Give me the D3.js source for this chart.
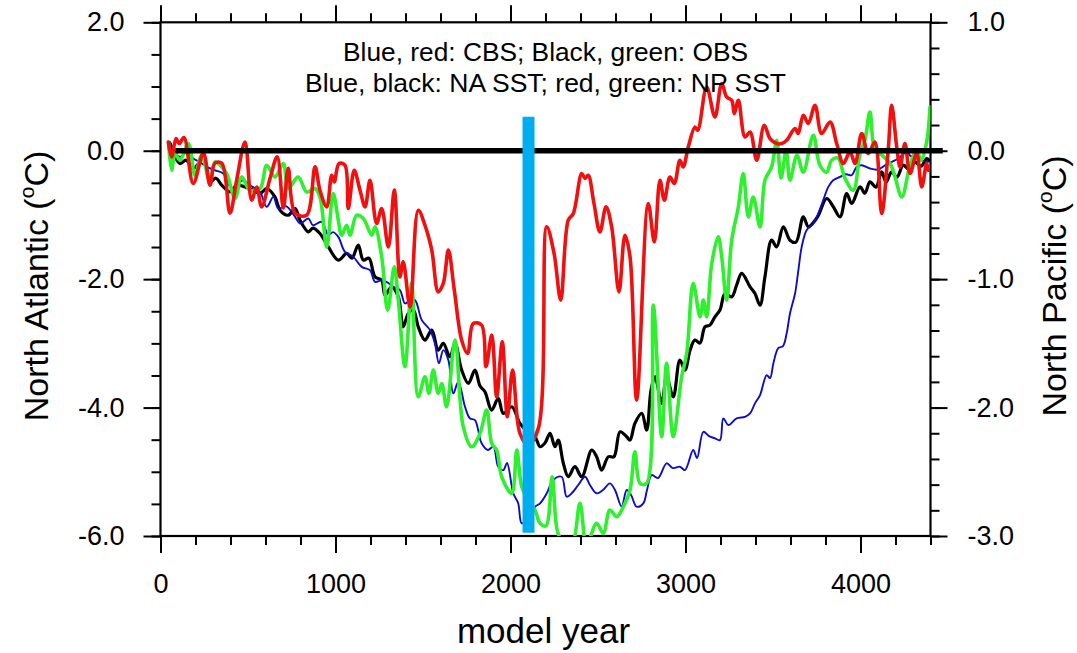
<!DOCTYPE html>
<html>
<head>
<meta charset="utf-8">
<script src="https://cdn.jsdelivr.net/npm/d3@7"></script>
<style>
  body { margin: 0; background: #fff; }
  svg { display: block; }
  text { font-family: "Liberation Sans", Arial, Helvetica, sans-serif; fill: #000; }
</style>
</head>
<body>
<svg id="chart" width="1077" height="653"></svg>
<script>
// ---- axis ticks and labels ----
const xMajorTicks = [0, 1000, 2000, 3000, 4000];
const xMinorStep = 200;
const leftMajorTicks = [-6, -4, -2, 0, 2];
const leftMinorStep = 0.5;
const rightMajorTicks = [-3, -2, -1, 0, 1];
const rightMinorStep = 0.2;
const noteLines = [
  "Blue, red: CBS; Black, green: OBS",
  "Blue, black: NA SST; red, green: NP SST"
];
const xTitle = "model year";
const leftTitle = "North Atlantic (";
const rightTitle = "North Pacific (";

// ---- series: [model year, SST anomaly °C] ----
// North Atlantic, CBS (blue, left axis)
const blueNA = [
  [54,0.137],[111,-0.096],[151,-0.023],[187,-0.121],[226,-0.179],[264,-0.252],[311,-0.304],
  [359,-0.355],[407,-0.588],[437,-0.521],[473,-0.459],[511,-0.537],[540,-0.584],[569,-0.641],
  [607,-0.875],[645,-0.719],[673,-0.900],[717,-0.864],[769,-1.030],[797,-1.133],[845,-1.055],
  [871,-1.160],[921,-1.108],[959,-1.315],[986,-1.268],[1016,-1.342],[1054,-1.575],[1102,-1.653],
  [1150,-1.809],[1197,-1.860],[1226,-2.042],[1264,-2.016],[1294,-2.047],[1330,-2.120],[1368,-2.171],
  [1397,-2.378],[1426,-2.327],[1454,-2.327],[1493,-2.638],[1540,-2.794],[1568,-3.001],[1591,-3.312],
  [1616,-3.105],[1645,-3.261],[1673,-3.779],[1702,-3.598],[1740,-3.988],[1768,-4.168],[1797,-4.195],
  [1835,-4.557],[1871,-4.661],[1902,-4.610],[1930,-4.921],[1959,-4.973],[1980,-4.864],[2016,-5.335],
  [2044,-5.491],[2064,-5.802],[2100,-5.72],[2140,-5.544],[2169,-5.491],[2207,-5.335],[2244,-5.128],
  [2292,-5.077],[2321,-5.388],[2351,-5.331],[2387,-5.206],[2426,-5.077],[2454,-5.206],[2492,-5.335],
  [2528,-5.284],[2568,-5.180],[2597,-5.284],[2635,-5.544],[2664,-5.284],[2689,-5.362],[2721,-5.544],
  [2759,-5.491],[2780,-5.284],[2807,-5.051],[2843,-5.097],[2892,-4.868],[2928,-4.942],[2968,-4.921],
  [2997,-4.973],[3044,-4.661],[3066,-4.786],[3102,-4.377],[3134,-4.444],[3168,-4.479],[3197,-4.506],
  [3216,-4.168],[3245,-4.272],[3292,-4.168],[3340,-4.143],[3369,-4.090],[3397,-3.935],[3426,-3.805],
  [3464,-3.494],[3483,-3.541],[3502,-3.312],[3530,-3.074],[3557,-3.043],[3578,-2.845],[3597,-2.534],
  [3626,-2.223],[3645,-1.860],[3664,-1.497],[3692,-1.237],[3730,-1.133],[3759,-0.977],[3787,-0.770],
  [3816,-0.563],[3844,-0.459],[3883,-0.408],[3917,-0.366],[3950,-0.381],[3978,-0.252],[4007,-0.226],
  [4054,-0.277],[4102,-0.293],[4140,-0.226],[4174,-0.179],[4216,-0.121],[4264,-0.019],[4288,-0.086],
  [4321,-0.070],[4350,-0.148],[4388,-0.174]
];

// North Atlantic, OBS (black, left axis)
const blackNA = [
  [54,0.112],[111,-0.199],[146,-0.148],[187,-0.277],[245,-0.121],[283,-0.486],[317,-0.428],
  [350,-0.537],[397,-0.641],[435,-0.537],[483,-0.563],[530,-0.615],[569,-0.666],[607,-0.588],
  [654,-0.719],[683,-0.926],[730,-1.004],[769,-0.900],[797,-1.082],[845,-1.264],[871,-1.206],
  [911,-1.289],[959,-1.497],[1016,-1.704],[1064,-1.600],[1094,-1.673],[1130,-1.471],[1159,-1.704],
  [1191,-1.673],[1226,-1.964],[1264,-2.016],[1283,-2.249],[1321,-2.120],[1359,-2.276],[1387,-2.742],
  [1416,-2.534],[1445,-2.482],[1473,-2.742],[1511,-2.949],[1550,-2.794],[1587,-3.105],[1616,-3.001],
  [1654,-3.209],[1683,-3.001],[1721,-3.416],[1759,-3.623],[1797,-3.416],[1826,-3.665],[1854,-3.754],
  [1892,-4.039],[1930,-3.857],[1959,-4.090],[2007,-3.988],[2054,-4.246],[2100,-4.381],[2140,-4.454],
  [2169,-4.610],[2197,-4.553],[2226,-4.401],[2254,-4.610],[2273,-4.506],[2302,-4.868],[2330,-5.077],
  [2368,-4.921],[2407,-5.077],[2464,-4.661],[2492,-4.766],[2521,-4.973],[2559,-4.766],[2591,-4.766],
  [2626,-4.377],[2664,-4.454],[2683,-4.506],[2711,-4.246],[2750,-4.090],[2778,-4.350],[2803,-3.728],
  [2826,-3.521],[2864,-3.935],[2892,-3.521],[2930,-3.832],[2968,-3.261],[2997,-3.416],[3026,-3.105],
  [3054,-2.949],[3083,-2.996],[3111,-2.742],[3140,-2.716],[3168,-2.587],[3197,-2.482],[3226,-2.223],
  [3264,-2.276],[3292,-2.093],[3321,-1.911],[3369,-2.120],[3397,-2.223],[3426,-2.405],[3454,-1.964],
  [3492,-1.393],[3521,-1.497],[3559,-1.186],[3597,-1.393],[3631,-1.424],[3673,-1.030],[3702,-1.186],
  [3728,-1.128],[3757,-1.019],[3807,-0.744],[3843,-0.864],[3883,-1.030],[3921,-0.666],[3950,-0.822],
  [3997,-0.563],[4025,-0.661],[4054,-0.486],[4088,-0.568],[4121,-0.330],[4146,-0.490],[4178,-0.330],
  [4208,-0.412],[4244,-0.226],[4277,-0.288],[4311,-0.174],[4346,-0.241],[4378,-0.121],[4391,-0.148]
];

// North Pacific, OBS (green, right axis)
const greenNP = [
  [45,0.068],[64,-0.152],[83,-0.022],[111,-0.074],[159,0.056],[197,-0.191],[235,-0.035],
  [283,-0.243],[311,-0.087],[340,-0.113],[378,-0.177],[426,-0.372],[464,-0.204],[511,-0.307],
  [569,-0.294],[607,-0.113],[654,-0.204],[702,-0.100],[730,-0.294],[787,-0.204],[835,-0.321],
  [883,-0.294],[911,-0.360],[950,-0.749],[987,-0.333],[1016,-0.541],[1035,-0.658],[1064,-0.580],
  [1083,-0.658],[1121,-0.502],[1159,-0.528],[1207,-0.658],[1226,-0.593],[1264,-0.826],[1298,-1.241],
  [1336,-0.904],[1359,-1.163],[1397,-1.682],[1435,-1.033],[1473,-1.916],[1511,-1.760],[1534,-1.889],
  [1559,-1.708],[1587,-1.889],[1607,-1.812],[1635,-1.994],[1683,-1.475],[1730,-2.149],[1778,-2.305],
  [1826,-2.201],[1864,-2.019],[1893,-2.279],[1921,-2.331],[1950,-2.539],[2007,-2.668],[2036,-2.331],
  [2064,-2.616],[2100,-2.72],[2140,-2.798],[2169,-2.901],[2203,-2.92],[2238,-2.539],[2269,-2.967],
  [2311,-3.07],[2351,-3.07],[2397,-2.746],[2435,-3.07],[2492,-2.901],[2530,-2.979],[2568,-2.798],
  [2607,-2.850],[2645,-2.772],[2683,-2.642],[2711,-2.344],[2740,-2.590],[2778,-2.590],[2816,-1.202],
  [2864,-2.227],[2892,-1.656],[2930,-2.227],[2978,-1.760],[3007,-1.578],[3044,-1.033],[3083,-1.293],
  [3102,-1.163],[3121,-1.293],[3150,-0.878],[3187,-0.671],[3207,-0.826],[3235,-1.163],[3264,-0.697],
  [3302,-0.437],[3330,-0.177],[3359,-0.515],[3387,-0.360],[3426,-0.593],[3454,-0.230],[3492,-0.126],
  [3521,0.082],[3546,-0.214],[3575,0.004],[3597,-0.230],[3637,-0.035],[3673,-0.167],[3730,0.121],
  [3768,-0.113],[3807,-0.167],[3835,-0.074],[3871,-0.058],[3911,-0.214],[3959,-0.307],[3997,-0.022],
  [4025,0.082],[4054,0.302],[4083,0.004],[4123,-0.035],[4169,-0.100],[4197,-0.204],[4236,-0.360],
  [4283,-0.113],[4321,0.004],[4346,-0.074],[4378,0.068],[4397,0.341]
];

// North Pacific, CBS (red, right axis)
const redNP = [
  [45,0.068],[64,-0.048],[89,0.095],[107,0.056],[134,0.103],[187,-0.255],[245,-0.019],[283,-0.268],
  [311,-0.097],[350,-0.097],[397,-0.486],[435,-0.230],[483,0.068],[521,-0.385],[550,-0.282],
  [578,-0.437],[626,-0.214],[667,-0.048],[702,-0.447],[730,-0.136],[769,-0.486],[835,-0.502],
  [883,-0.126],[911,-0.307],[950,-0.437],[978,-0.191],[993,-0.243],[1020,-0.100],[1054,-0.113],
  [1073,-0.450],[1107,-0.152],[1140,-0.307],[1169,-0.437],[1197,-0.230],[1235,-0.567],[1264,-0.450],
  [1302,-0.749],[1336,-0.307],[1368,-0.982],[1387,-0.865],[1426,-1.216],[1473,-0.463],[1511,-0.580],
  [1550,-0.774],[1587,-1.099],[1616,-1.033],[1645,-0.774],[1679,-1.086],[1721,-1.475],[1755,-1.578],
  [1787,-1.345],[1835,-1.358],[1860,-1.682],[1893,-1.436],[1921,-1.916],[1953,-1.488],[1982,-2.072],
  [2012,-1.708],[2054,-2.201],[2100,-2.29],[2159,-2.162],[2207,-0.593],[2249,-0.800],[2287,-1.163],
  [2330,-0.541],[2359,-0.489],[2407,-0.177],[2426,-0.216],[2444,-0.191],[2477,-0.411],[2511,-0.632],
  [2546,-0.437],[2578,-0.593],[2620,-1.099],[2654,-0.658],[2683,-0.826],[2721,-1.942],[2787,-0.411],
  [2822,-0.710],[2854,-0.230],[2879,-0.385],[2911,-0.204],[2936,-0.255],[2968,-0.074],[2987,-0.126],
  [3016,0.030],[3054,0.185],[3070,0.160],[3121,0.496],[3168,0.263],[3207,0.523],[3235,0.419],
  [3264,0.393],[3279,0.289],[3302,0.393],[3340,0.107],[3369,0.146],[3407,-0.074],[3450,0.198],
  [3483,0.095],[3521,0.056],[3550,0.056],[3578,0.082],[3626,0.173],[3644,0.134],[3673,0.276],
  [3702,0.212],[3740,0.354],[3778,0.134],[3826,0.224],[3864,0.056],[3902,-0.100],[3940,-0.009],
  [3969,-0.100],[4007,0.134],[4044,-0.022],[4082,0.068],[4121,-0.489],[4159,0.017],[4178,0.354],
  [4207,0.030],[4226,-0.126],[4254,0.056],[4283,-0.177],[4321,-0.022],[4350,-0.282],[4378,-0.100],
  [4388,-0.152]
];

// zero reference line and the marker bar (left-axis units)
const zeroLine = [[85, 0], [4470, 0]];
const markerBar = [[2103, 0.53], [2103, -5.95]];

// ---- layout ----
const svg = d3.select("#chart");
const plot = { left: 160.5, right: 930.5, top: 22.3, bottom: 536 };

const x = d3.scaleLinear().domain([0, 4400]).range([plot.left, plot.right]);
const yL = d3.scaleLinear().domain([-6, 2]).range([plot.bottom, plot.top]);
const yR = d3.scaleLinear().domain([-3, 1]).range([plot.bottom, plot.top]);

svg.append("defs").append("clipPath").attr("id", "plot-clip")
  .append("rect")
  .attr("x", plot.left).attr("y", plot.top)
  .attr("width", plot.right - plot.left).attr("height", plot.bottom - plot.top);

const fmt = d => d.toFixed(1);
const MAJOR = 17, MINOR = 9;

function styleAxis(g) {
  g.select(".domain").remove();
  g.selectAll(".tick line").attr("stroke", "#000").attr("stroke-width", 2);
  g.selectAll(".tick text").attr("font-size", 27).attr("fill", "#000")
    .attr("font-family", "'Liberation Sans', Arial, sans-serif");
}

const xMinor = d3.range(0, 4400 + 1, xMinorStep);
const lMinor = d3.range(-6, 2 + 1e-9, leftMinorStep);
const rMinor = d3.range(-3, 1 + 1e-9, rightMinorStep).map(v => Math.round(v * 10) / 10);

// bottom
svg.append("g").attr("transform", `translate(0,${plot.bottom})`)
  .call(d3.axisBottom(x).tickValues(xMinor).tickSize(MINOR).tickFormat("")).call(styleAxis);
svg.append("g").attr("transform", `translate(0,${plot.bottom})`)
  .call(d3.axisBottom(x).tickValues(xMajorTicks).tickSize(MAJOR).tickPadding(21).tickFormat(d3.format("d")))
  .call(styleAxis);
// top
svg.append("g").attr("transform", `translate(0,${plot.top})`)
  .call(d3.axisTop(x).tickValues(xMinor).tickSize(MINOR).tickFormat("")).call(styleAxis);
svg.append("g").attr("transform", `translate(0,${plot.top})`)
  .call(d3.axisTop(x).tickValues(xMajorTicks).tickSize(MAJOR).tickFormat("")).call(styleAxis);
// left
svg.append("g").attr("transform", `translate(${plot.left},0)`)
  .call(d3.axisLeft(yL).tickValues(lMinor).tickSize(MINOR).tickFormat("")).call(styleAxis);
svg.append("g").attr("transform", `translate(${plot.left},0)`)
  .call(d3.axisLeft(yL).tickValues(leftMajorTicks).tickSize(MAJOR).tickPadding(19).tickFormat(fmt))
  .call(styleAxis);
// right
svg.append("g").attr("transform", `translate(${plot.right},0)`)
  .call(d3.axisRight(yR).tickValues(rMinor).tickSize(MINOR).tickFormat("")).call(styleAxis);
svg.append("g").attr("transform", `translate(${plot.right},0)`)
  .call(d3.axisRight(yR).tickValues(rightMajorTicks).tickSize(MAJOR).tickPadding(20).tickFormat(fmt))
  .call(styleAxis);

// frame
svg.append("rect")
  .attr("x", plot.left).attr("y", plot.top)
  .attr("width", plot.right - plot.left).attr("height", plot.bottom - plot.top)
  .attr("fill", "none").attr("stroke", "#000").attr("stroke-width", 2.2);

// ---- series ----
const lines = svg.append("g").attr("clip-path", "url(#plot-clip)");
const curve = d3.curveCatmullRom.alpha(0.5);
const lineL = d3.line().x(d => x(d[0])).y(d => yL(d[1])).curve(curve);
const lineR = d3.line().x(d => x(d[0])).y(d => yR(d[1])).curve(curve);

const series = [
  { data: blackNA, gen: lineL, color: "#000000", width: 3.2 },
  { data: blueNA,  gen: lineL, color: "#0d0dc8", width: 1.9 },
  { data: greenNP, gen: lineR, color: "#2ff02f", width: 3.6 },
  { data: redNP,   gen: lineR, color: "#f01010", width: 3.6 }
];
series.forEach(s => {
  lines.append("path")
    .attr("d", s.gen(s.data))
    .attr("fill", "none")
    .attr("stroke", s.color)
    .attr("stroke-width", s.width)
    .attr("stroke-linejoin", "round")
    .attr("stroke-linecap", "round");
});

// zero reference line
svg.append("path")
  .attr("d", d3.line().x(d => x(d[0])).y(d => yL(d[1]))(zeroLine))
  .attr("stroke", "#000").attr("stroke-width", 5.5).attr("fill", "none");

// marker bar
svg.append("path")
  .attr("d", d3.line().x(d => x(d[0])).y(d => yL(d[1]))(markerBar))
  .attr("stroke", "#00aeef").attr("stroke-width", 12).attr("fill", "none");

// ---- text ----
const cx = (plot.left + plot.right) / 2;
svg.append("text").attr("x", cx).attr("y", 60.5).attr("text-anchor", "middle")
  .attr("font-size", 25).attr("textLength", 405).attr("lengthAdjust", "spacingAndGlyphs")
  .text(noteLines[0]);
svg.append("text").attr("x", cx).attr("y", 92).attr("text-anchor", "middle")
  .attr("font-size", 25).attr("textLength", 481).attr("lengthAdjust", "spacingAndGlyphs")
  .text(noteLines[1]);

svg.append("text").attr("x", cx - 2).attr("y", 643).attr("text-anchor", "middle")
  .attr("font-size", 35).text(xTitle);

function degTitle(tx, ty, label) {
  const t = svg.append("text")
    .attr("transform", `translate(${tx},${ty}) rotate(-90)`)
    .attr("text-anchor", "middle").attr("font-size", 34);
  t.append("tspan").text(label);
  t.append("tspan").attr("font-size", 21).attr("dy", -14).text("o");
  t.append("tspan").attr("dy", 14).text("C)");
}
degTitle(48, 286, leftTitle);
degTitle(1066, 286, rightTitle);
</script>
</body>
</html>
